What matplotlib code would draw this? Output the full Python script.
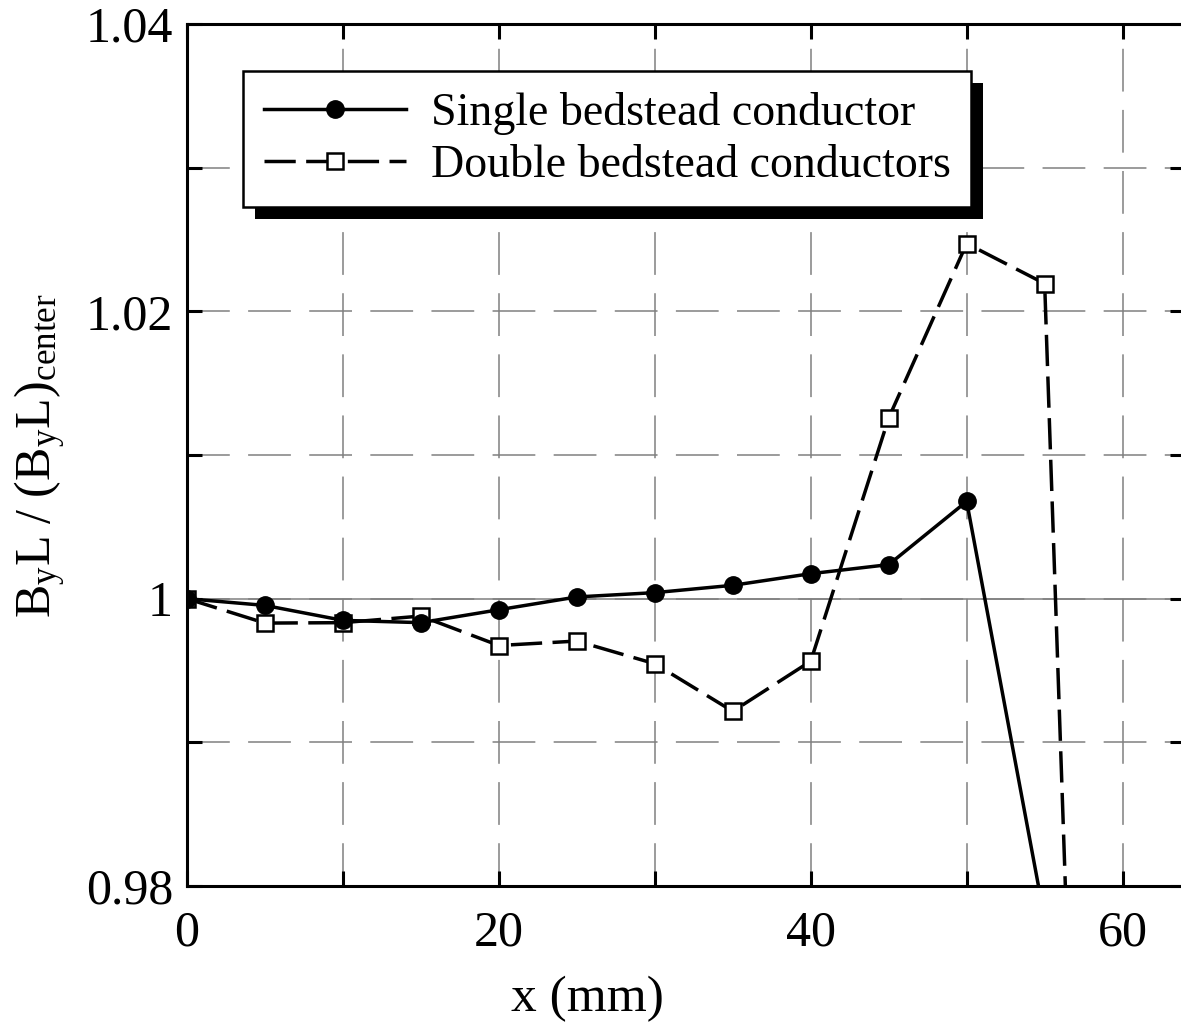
import matplotlib
matplotlib.use("Agg")
import matplotlib.pyplot as plt
from matplotlib.patches import Rectangle

# values
x_single = [0, 5, 10, 15, 20, 25, 30, 35, 40, 45, 50, 55]
y_single = [1.0, 0.99953, 0.99849, 0.99833, 0.99923, 1.00012, 1.00042,
            1.00093, 1.00174, 1.00237, 1.00677, 0.9777]
x_double = [0, 5, 10, 15, 20, 25, 30, 35, 40, 45, 50, 55, 60]
y_double = [1.0, 0.9983, 0.99833, 0.99879, 0.99674, 0.99705, 0.99547,
            0.99216, 0.99565, 1.01258, 1.02472, 1.02193, 0.864]

x_ticks = [0, 10, 20, 30, 40, 50, 60]
x_tick_labels = ["0", "", "20", "", "40", "", "60"]
y_ticks = [0.98, 0.99, 1.0, 1.01, 1.02, 1.03, 1.04]
y_tick_labels = ["0.98", "", "1", "", "1.02", "", "1.04"]

label_single = "Single bedstead conductor"
label_double = "Double bedstead conductors"

plt.rcParams["font.family"] = ["Liberation Serif", "DejaVu Serif"]
plt.rcParams["mathtext.fontset"] = "custom"
plt.rcParams["mathtext.rm"] = "Liberation Serif"
plt.rcParams["mathtext.it"] = "Liberation Serif:italic"

W, H = 1181, 1025
fig = plt.figure(figsize=(W / 100, H / 100), dpi=100)
# axes runs a little past the right edge, as in the cropped original
ax = fig.add_axes([187 / W, 1 - 886 / H, (1185 - 187) / W, (886 - 24) / H])

gray = "#808080"
ax.grid(True, color=gray, lw=1.1, linestyle=(0, (28, 12)), zorder=0)
ax.axhline(1.0, color=gray, lw=1.1, zorder=0.5)

ax.plot(x_double, y_double, color="black", lw=2.5, dashes=(9, 3),
        marker="s", ms=11.5, mfc="white", mec="black", mew=1.8,
        label=label_double, zorder=3)
ax.plot(x_single, y_single, color="black", lw=2.5, linestyle="-",
        marker="o", ms=12.5, mfc="black", mec="black",
        label=label_single, zorder=4)

ax.set_xlim(0, 64)
ax.set_ylim(0.98, 1.04)
ax.set_xticks(x_ticks)
ax.set_xticklabels(x_tick_labels)
ax.set_yticks(y_ticks)
ax.set_yticklabels(y_tick_labels)
ax.tick_params(axis="both", direction="in", length=11, width=2.2,
               top=True, right=True, labelsize=36)
ax.tick_params(axis="x", pad=17)
ax.tick_params(axis="y", pad=10)
for sp in ax.spines.values():
    sp.set_linewidth(2.2)

handles, labels = ax.get_legend_handles_labels()
leg = ax.legend(handles[::-1], labels[::-1], loc="upper left",
                bbox_to_anchor=(0.056, 0.945), borderaxespad=0,
                fontsize=33, frameon=True, fancybox=False,
                edgecolor="black", framealpha=1, handlelength=3.1,
                handletextpad=0.55, labelspacing=0.2, borderpad=0.45)
leg.get_frame().set_linewidth(1.8)
leg.set_zorder(6)

# solid black drop shadow behind the legend box
fig.canvas.draw()
bb = leg.get_window_extent().transformed(ax.transAxes.inverted())
dx = 12 / (1185 - 187)
dy = 12 / (886 - 24)
ax.add_patch(Rectangle((bb.x0 + dx, bb.y0 - dy), bb.width, bb.height,
                       transform=ax.transAxes, facecolor="black",
                       edgecolor="none", zorder=5.5, clip_on=False))

fig.text(40 / W, 1 - 456 / H,
         r"$\mathrm{B_yL\ /\ (B_yL)_{center}}$",
         rotation=90, ha="center", va="center", fontsize=36)
fig.text(587 / W, 1 - 1011 / H, "x (mm)", ha="center", va="baseline",
         fontsize=37)

fig.savefig("out.png", dpi=100)
